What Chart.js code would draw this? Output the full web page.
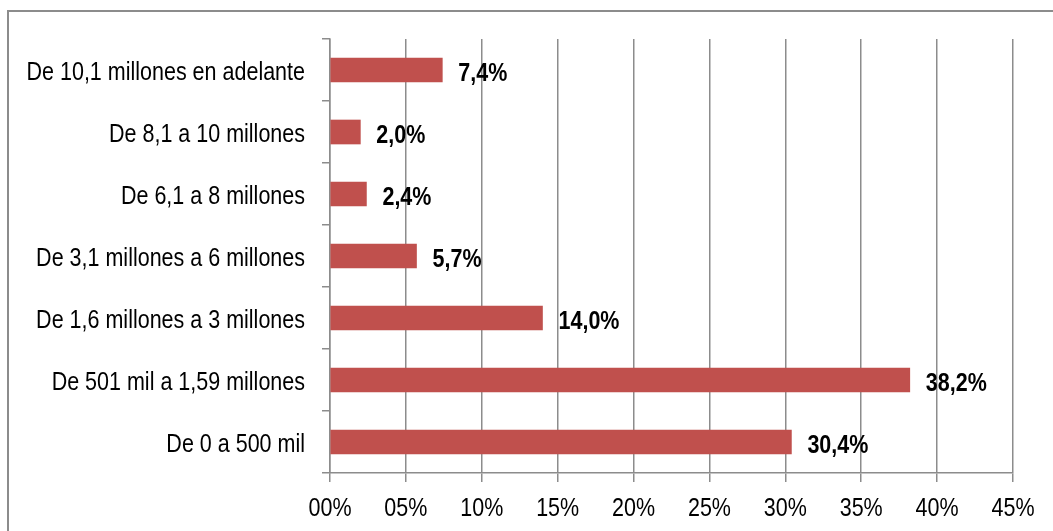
<!DOCTYPE html>
<html lang="es">
<head>
    <meta charset="UTF-8">
    <title>Distribución por rango</title>
    <script src="https://cdn.jsdelivr.net/npm/chart.js"></script>
    <style>
        body {
            margin: 0;
            background-color: white;
            overflow: hidden;
        }
        .frame {
            position: absolute;
            left: 7px;
            top: 10px;
            width: 1080px;
            height: 560px;
            border: 2px solid #8c8c8c;
        }
        .chart-box {
            position: absolute;
            left: 0;
            top: 0;
            width: 1053px;
            height: 531px;
        }
    </style>
</head>
<body>
    <div class="frame"></div>
    <div class="chart-box">
        <canvas id="rangeChart"></canvas>
    </div>

    <script>
        // Rangos (de arriba hacia abajo)
        const categories = [
            'De 10,1 millones en adelante',
            'De 8,1 a 10 millones',
            'De 6,1 a 8 millones',
            'De 3,1 millones a 6 millones',
            'De 1,6 millones a 3 millones',
            'De 501 mil a 1,59 millones',
            'De 0 a 500 mil'
        ];
        const percentages = [7.4, 2.0, 2.4, 5.7, 14.0, 38.2, 30.4];
        const xTicks = [0, 5, 10, 15, 20, 25, 30, 35, 40, 45];

        const fontFamily = '"Liberation Sans", Arial, sans-serif';
        const fontSize = 21.5;
        const stretchY = 1.2;   // el original usa una letra alta y estrecha
        const gridColor = '#8c8c8c';

        function tallText(ctx, txt, x, y, align) {
            ctx.save();
            ctx.translate(x, y);
            ctx.scale(1, stretchY);
            ctx.textAlign = align;
            ctx.textBaseline = 'alphabetic';
            ctx.fillText(txt, 0, 0);
            ctx.restore();
        }

        const fmtPct = (v) => v.toFixed(1).replace('.', ',') + '%';
        const fmtTick = (v) => String(v).padStart(2, '0') + '%';

        // textos de ejes y valores al final de cada barra
        const textLayer = {
            id: 'textLayer',
            afterDraw(chart) {
                const ctx = chart.ctx;
                const xs = chart.scales.x;
                const ys = chart.scales.y;
                ctx.save();
                ctx.fillStyle = '#000';
                ctx.font = fontSize + 'px ' + fontFamily;
                categories.forEach((c, i) => {
                    tallText(ctx, c, ys.right - 25, ys.getPixelForValue(i) + 10, 'right');
                });
                xTicks.forEach(v => {
                    tallText(ctx, fmtTick(v), xs.getPixelForValue(v), xs.top + 43, 'center');
                });
                ctx.font = 'bold ' + fontSize + 'px ' + fontFamily;
                chart.getDatasetMeta(0).data.forEach((bar, i) => {
                    tallText(ctx, fmtPct(percentages[i]), bar.x + 16, bar.y + 10.5, 'left');
                });
                ctx.restore();
            }
        };

        new Chart(document.getElementById('rangeChart'), {
            type: 'bar',
            data: {
                labels: categories,
                datasets: [{
                    data: percentages,
                    backgroundColor: '#C0504D',
                    borderWidth: 0,
                    barThickness: 24
                }]
            },
            options: {
                indexAxis: 'y',
                responsive: true,
                maintainAspectRatio: false,
                animation: false,
                layout: {
                    padding: { left: 0, top: 39, right: 40, bottom: 0 }
                },
                plugins: {
                    legend: { display: false },
                    tooltip: { enabled: false }
                },
                scales: {
                    x: {
                        min: 0,
                        max: 45,
                        afterBuildTicks: (scale) => {
                            scale.ticks = xTicks.map(v => ({ value: v }));
                        },
                        afterFit: (scale) => { scale.height = 58; },
                        grid: {
                            color: gridColor,
                            lineWidth: 1.5,
                            tickLength: 9,
                            tickColor: gridColor
                        },
                        border: { color: gridColor, width: 1.5 },
                        ticks: { display: false }
                    },
                    y: {
                        afterFit: (scale) => { scale.width = 330; },
                        grid: {
                            display: true,
                            drawOnChartArea: false,
                            offset: true,
                            color: gridColor,
                            lineWidth: 1.5,
                            tickLength: 8
                        },
                        border: { color: gridColor, width: 1.5 },
                        ticks: { display: false }
                    }
                }
            },
            plugins: [textLayer]
        });
    </script>
</body>
</html>
